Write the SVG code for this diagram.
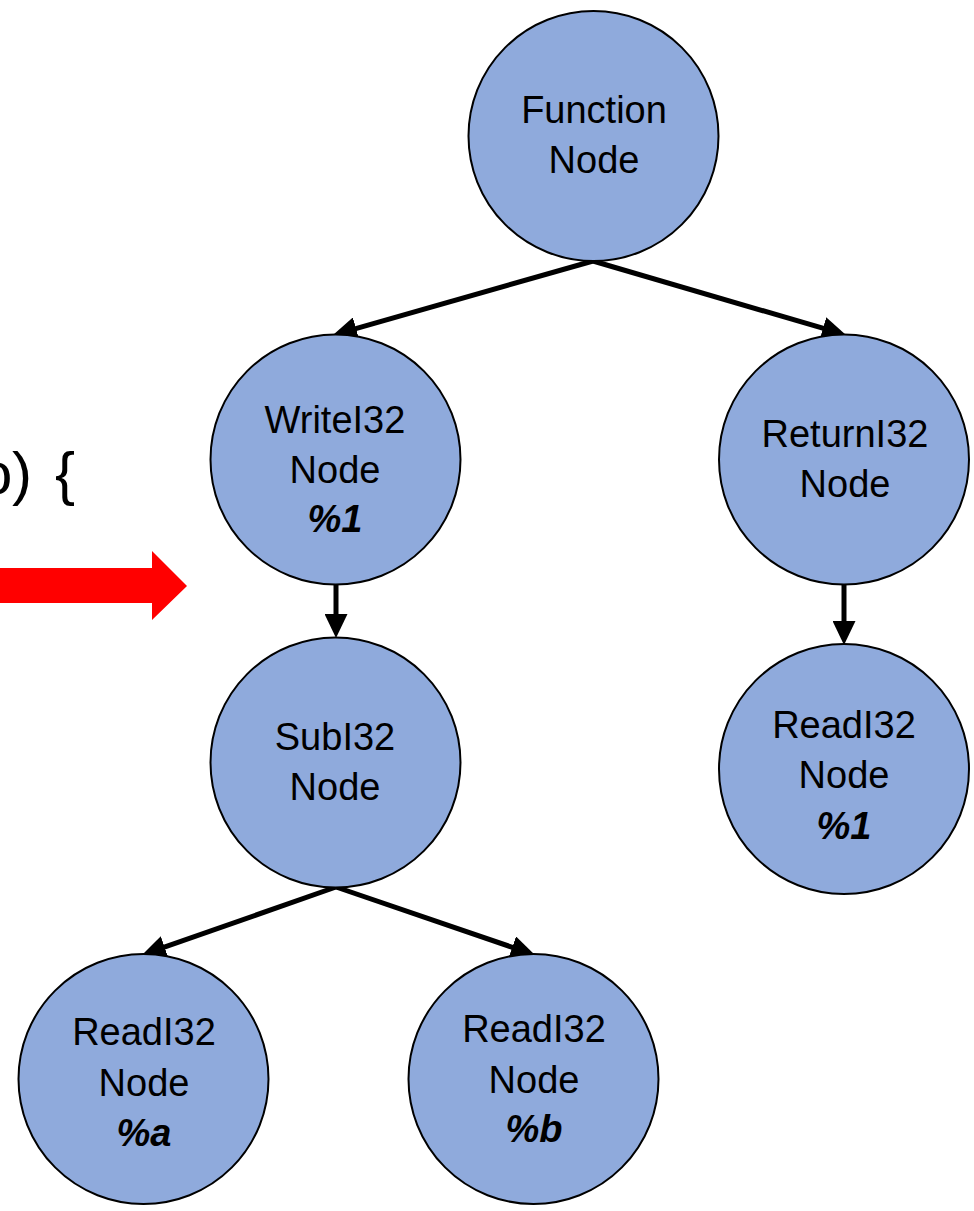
<svg xmlns="http://www.w3.org/2000/svg" width="974" height="1211" viewBox="0 0 974 1211">
<defs>
<style>
.node{fill:#8faadc;stroke:#000;stroke-width:2}
.lbl{font-family:"Liberation Sans",Arial,sans-serif;font-size:38px;fill:#000;text-anchor:middle}
.var{font-weight:bold;font-style:italic}
.edge{stroke:#000;stroke-width:5;fill:none;marker-end:url(#ah)}
</style>
<marker id="ah" viewBox="0 0 24 23" markerUnits="userSpaceOnUse" markerWidth="24" markerHeight="23" refX="14" refY="11.5" orient="auto">
<path d="M0,0 L24,11.5 L0,23 z" fill="#000"/>
</marker>
</defs>
<rect width="974" height="1211" fill="#fff"/>
<text x="-21 12 35 55" y="494" style="font-family:'Liberation Sans',Arial,sans-serif;font-size:60px;fill:#000">o) {</text>
<polygon id="red-arrow" points="0,568 152,568 152,551 187,586 152,620 152,603 0,603" fill="#ff0000"/>
<g id="connectors">
<line class="edge" x1="593" y1="261" x2="342.6" y2="332.3"/>
<line class="edge" x1="593" y1="261" x2="836.4" y2="332.2"/>
<line class="edge" x1="336" y1="585" x2="336" y2="628"/>
<line class="edge" x1="844" y1="585" x2="844" y2="635"/>
<line class="edge" x1="336" y1="887" x2="151.4" y2="951.7"/>
<line class="edge" x1="336" y1="887" x2="525.5" y2="951.8"/>
</g>
<g id="function-node">
<circle class="node" cx="593.5" cy="136" r="125"/>
<text class="lbl" x="594" y="123">Function</text>
<text class="lbl" x="594" y="173">Node</text>
</g>
<g id="write-node">
<circle class="node" cx="335.5" cy="459.5" r="125"/>
<text class="lbl" x="335" y="433">WriteI32</text>
<text class="lbl" x="335" y="483">Node</text>
<text class="lbl var" x="335" y="532">%1</text>
</g>
<g id="return-node">
<circle class="node" cx="844" cy="459.5" r="125"/>
<text class="lbl" x="845" y="447">ReturnI32</text>
<text class="lbl" x="845" y="497">Node</text>
</g>
<g id="sub-node">
<circle class="node" cx="335.5" cy="762.5" r="125"/>
<text class="lbl" x="335" y="750">SubI32</text>
<text class="lbl" x="335" y="800">Node</text>
</g>
<g id="read1-node">
<circle class="node" cx="844" cy="769" r="125"/>
<text class="lbl" x="844" y="738">ReadI32</text>
<text class="lbl" x="844" y="788">Node</text>
<text class="lbl var" x="844" y="839">%1</text>
</g>
<g id="reada-node">
<circle class="node" cx="143.5" cy="1079" r="125"/>
<text class="lbl" x="144" y="1045">ReadI32</text>
<text class="lbl" x="144" y="1096">Node</text>
<text class="lbl var" x="144" y="1146">%a</text>
</g>
<g id="readb-node">
<circle class="node" cx="533.5" cy="1079" r="125"/>
<text class="lbl" x="534" y="1042">ReadI32</text>
<text class="lbl" x="534" y="1093">Node</text>
<text class="lbl var" x="534" y="1142">%b</text>
</g>
</svg>
